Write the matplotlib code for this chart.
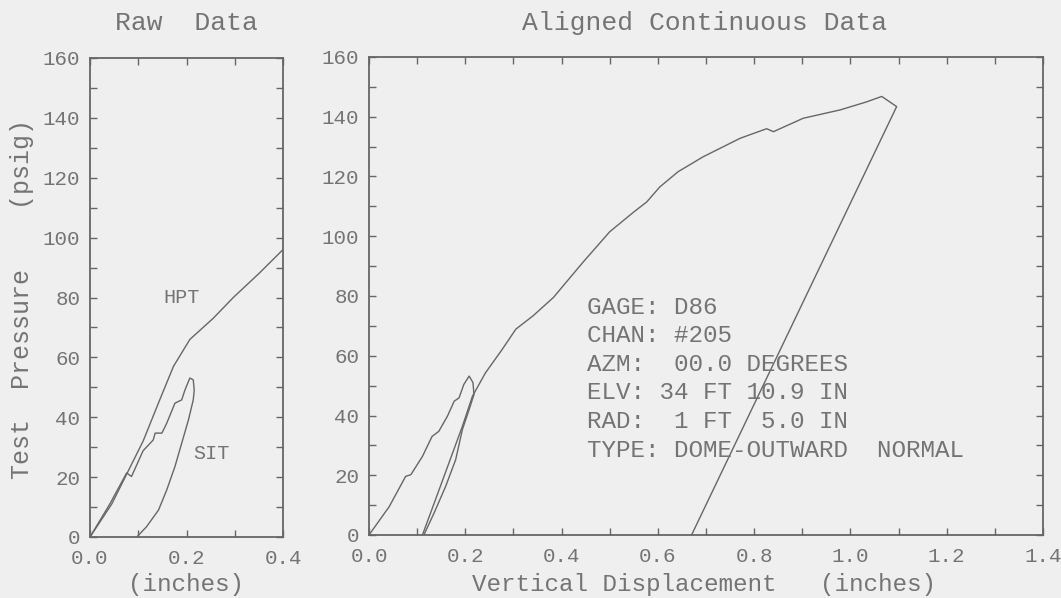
import numpy as np
import matplotlib.pyplot as plt
from matplotlib.ticker import MultipleLocator

### Raw data (left panel) ###
hpt_raw_x = [0.0, 0.045, 0.076, 0.110, 0.145, 0.173, 0.207, 0.255, 0.297, 0.350, 0.400]
hpt_raw_p = [0.0, 11.0, 21.0, 32.0, 46.0, 57.0, 66.0, 73.0, 80.0, 88.0, 96.0]

sit_raw_x = [0.0, 0.041, 0.076, 0.086, 0.110, 0.131, 0.135, 0.149, 0.159, 0.176, 0.190,
             0.197, 0.207, 0.214, 0.216, 0.214, 0.204, 0.190, 0.176, 0.159, 0.142,
             0.117, 0.097]
sit_raw_p = [0.0, 11.0, 21.4, 20.2, 28.8, 32.4, 34.7, 34.7, 38.0, 44.7, 45.8,
             49.2, 53.1, 52.5, 49.0, 45.8, 39.1, 31.3, 23.5, 15.7, 9.0,
             3.4, 0.0]

### Aligned continuous data (right panel) ###
sit_al_x = [0.0, 0.042, 0.076, 0.087, 0.111, 0.131, 0.145, 0.163, 0.177, 0.187, 0.197,
            0.208, 0.216, 0.218, 0.208, 0.194, 0.180, 0.159, 0.135, 0.114]
sit_al_p = [0.0, 9.5, 19.6, 20.2, 26.3, 33.0, 34.7, 39.8, 44.8, 45.9, 50.4,
            53.2, 51.0, 47.0, 42.0, 35.3, 25.2, 16.2, 7.3, 0.0]

hpt_al_x = [0.111, 0.138, 0.166, 0.194, 0.215, 0.242, 0.277, 0.305, 0.341, 0.383, 0.445,
            0.500, 0.549, 0.577, 0.604, 0.642, 0.694, 0.771, 0.826, 0.840, 0.902,
            0.979, 1.034, 1.065, 1.096, 0.670]
hpt_al_p = [0.0, 11.8, 24.1, 36.4, 46.5, 54.3, 62.2, 68.9, 73.4, 79.5, 91.4,
            101.5, 108.0, 111.5, 116.5, 121.6, 126.6, 132.8, 136.0, 135.0, 139.5,
            142.3, 145.0, 146.8, 143.4, 0.0]

info_lines = ["GAGE: D86", "CHAN: #205", "AZM:  00.0 DEGREES",
              "ELV: 34 FT 10.9 IN", "RAD:  1 FT  5.0 IN",
              "TYPE: DOME-OUTWARD  NORMAL"]

bg = '#efefef'
ink = '#666666'
txt = '#747474'
plt.rcParams['font.family'] = ['Liberation Mono', 'DejaVu Sans Mono']
plt.rcParams['text.color'] = txt

W, H = 1061, 598
fig = plt.figure(figsize=(W / 100, H / 100), dpi=100, facecolor=bg)
ax1 = fig.add_axes([90 / W, 1 - 537 / H, 193 / W, 479 / H])
ax2 = fig.add_axes([369 / W, 1 - 535 / H, 674 / W, 478 / H])


def style(ax, xmax):
    ax.set_facecolor(bg)
    ax.set_xlim(0, xmax)
    ax.set_ylim(0, 160)
    ax.xaxis.set_major_locator(MultipleLocator(0.2))
    ax.xaxis.set_minor_locator(MultipleLocator(0.1))
    ax.yaxis.set_major_locator(MultipleLocator(20))
    ax.yaxis.set_minor_locator(MultipleLocator(10))
    ax.xaxis.set_major_formatter(lambda v, pos: '%.1f' % v)
    ax.tick_params(which='both', direction='in', top=True, right=True,
                   length=5, width=1, color=ink, labelcolor=txt, labelsize=15)
    ax.tick_params(axis='x', pad=9)
    ax.tick_params(axis='y', pad=7)
    for s in ax.spines.values():
        s.set_color(ink)
        s.set_linewidth(1.3)


style(ax1, 0.4)
style(ax2, 1.4)

ax1.plot(hpt_raw_x, hpt_raw_p, color=ink, lw=1.0)
ax1.plot(sit_raw_x, sit_raw_p, color=ink, lw=1.0)
ax1.text(0.19, 80, "HPT", ha='center', va='center', fontsize=14.5)
ax1.text(0.251, 28, "SIT", ha='center', va='center', fontsize=14.5)

ax2.plot(sit_al_x, sit_al_p, color=ink, lw=1.0)
ax2.plot(hpt_al_x, hpt_al_p, color=ink, lw=1.0)
for i, line in enumerate(info_lines):
    ax2.text(0.453, 76.3 - i * 9.58, line, ha='left', va='center', fontsize=17.5)

fig.text(186.5 / W, 1 - 23 / H, "Raw  Data", ha='center', va='center', fontsize=19)
fig.text(705 / W, 1 - 23 / H, "Aligned Continuous Data", ha='center', va='center', fontsize=19)
fig.text(22 / W, 1 - 299 / H, "Test  Pressure    (psig)", rotation=90,
         ha='center', va='center', fontsize=18)
fig.text(186.5 / W, 1 - 585 / H, "(inches)", ha='center', va='center', fontsize=17.5)
fig.text(704 / W, 1 - 585 / H, "Vertical Displacement   (inches)",
         ha='center', va='center', fontsize=17.5)

fig.savefig("out.png", dpi=100, facecolor=bg)
